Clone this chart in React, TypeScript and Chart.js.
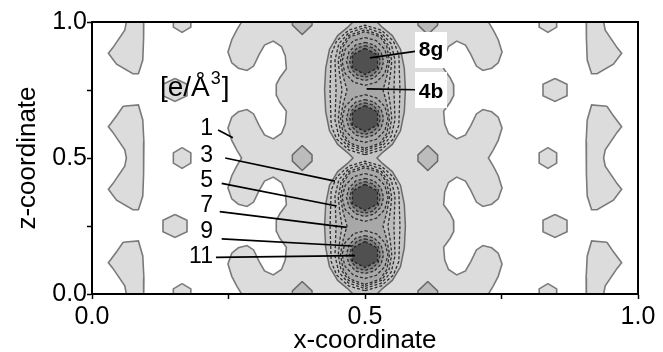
import { useEffect, useRef } from 'react';
import { Chart, registerables } from 'chart.js';

Chart.register(...registerables);

type P = [number, number];

const FONT = "'Liberation Sans', Arial, sans-serif";

// ---- axes ----
const TICK_VALUES = [0, 0.25, 0.5, 0.75, 1];
const TICK_LABELS = ['0.0', '', '0.5', '', '1.0'];
const X_TITLE = 'x-coordinate';
const Y_TITLE = 'z-coordinate';

// ---- level-1 band: left boundary over one z period (0 .. 0.5), [x, z] ----
const BAND_LEFT: P[] = [
  [0.274, 0.0], [0.265, 0.03], [0.256, 0.065], [0.249, 0.11], [0.256, 0.15], [0.268, 0.17],
  [0.284, 0.178], [0.296, 0.162], [0.306, 0.12], [0.316, 0.085], [0.332, 0.07], [0.347, 0.09],
  [0.354, 0.125], [0.356, 0.172], [0.344, 0.205], [0.338, 0.23], [0.337, 0.25], [0.338, 0.27],
  [0.344, 0.295], [0.356, 0.328], [0.354, 0.375], [0.347, 0.41], [0.332, 0.43], [0.316, 0.415],
  [0.306, 0.38], [0.296, 0.338], [0.284, 0.322], [0.268, 0.33], [0.256, 0.35], [0.249, 0.39],
  [0.256, 0.435], [0.265, 0.47],
];
const PERIOD_SHIFTS = [-0.5, 0, 0.5, 1.0];

// ---- outer crescent blob (left one, centred at z = 0.5), [x, z] ----
const BLOB_LEFT: P[] = [
  [0.057, 0.69], [0.085, 0.695], [0.093, 0.64], [0.095, 0.56], [0.094, 0.5], [0.095, 0.44],
  [0.093, 0.36], [0.085, 0.31], [0.075, 0.31], [0.045, 0.345], [0.03, 0.385], [0.038, 0.405],
  [0.06, 0.47], [0.063, 0.5], [0.06, 0.53], [0.038, 0.595], [0.03, 0.615], [0.045, 0.655],
];
const BLOB_SHIFTS = [-0.5, 0, 0.5];

// ---- small islands (left side; right side is mirrored) ----
const HEX_UNIT: P[] = [[0, 1], [1, 0.5], [1, -0.5], [0, -1], [-1, -0.5], [-1, 0.5]];
const DIAMOND_UNIT: P[] = [[0, 1], [1, 0.25], [1, -0.25], [0, -1], [-1, -0.25], [-1, 0.25]];
const HEX_CENTERS: P[] = [[0.152, 0.25], [0.152, 0.75]];
const HEX_SIZE: P = [0.022, 0.042];
const SMALL_CENTERS: P[] = [[0.165, 0], [0.165, 0.5], [0.165, 1]];
const SMALL_SIZE: P = [0.016, 0.038];
const DIAMOND_CENTERS: P[] = [[0.385, 0], [0.385, 0.5], [0.385, 1]];
const DIAMOND_SIZE: P = [0.018, 0.046];

// ---- central column: half-width profiles [z, half-width] around x = 0.5 ----
const COLUMN_PROFILE: P[] = [
  [0, 0.022], [0.02, 0.032], [0.05, 0.05], [0.1, 0.065], [0.17, 0.072], [0.25, 0.074],
  [0.33, 0.072], [0.4, 0.065], [0.45, 0.05], [0.48, 0.032],
];
const L4_PROFILE: P[] = [
  [0.012, 0], [0.03, 0.03], [0.07, 0.052], [0.12, 0.062], [0.25, 0.064], [0.38, 0.062],
  [0.43, 0.052], [0.47, 0.03], [0.488, 0],
];
const L5_PROFILE: P[] = [
  [0.02, 0], [0.04, 0.03], [0.08, 0.048], [0.14, 0.055], [0.25, 0.053], [0.36, 0.055],
  [0.42, 0.048], [0.46, 0.03], [0.48, 0],
];
const L6_PROFILE: P[] = [
  [0.028, 0], [0.05, 0.03], [0.09, 0.044], [0.145, 0.049], [0.2, 0.046], [0.25, 0.042],
  [0.3, 0.046], [0.355, 0.049], [0.41, 0.044], [0.45, 0.03], [0.472, 0],
];
const L7_PROFILE: P[] = [
  [0.035, 0], [0.055, 0.028], [0.09, 0.04], [0.145, 0.045], [0.2, 0.04], [0.25, 0.033],
  [0.3, 0.04], [0.355, 0.045], [0.41, 0.04], [0.445, 0.028], [0.465, 0],
];
const HALF_SHIFTS = [0, 0.5];

// ---- maxima and their rings ----
const MAXIMA_Z = [0.145, 0.355, 0.645, 0.855];
const RING_UNIT: P[] = [
  [0, 1], [0.5, 0.866], [0.866, 0.5], [1, 0], [0.866, -0.5], [0.5, -0.866],
  [0, -1], [-0.5, -0.866], [-0.866, -0.5], [-1, 0], [-0.866, 0.5], [-0.5, 0.866],
];
const L8_SIZE: P = [0.042, 0.088];
const L9_SIZE: P = [0.034, 0.07];
const L10_SIZE: P = [0.028, 0.058];
const CORE_SIZE: P = [0.023, 0.048];

// ---- annotations ----
const LEVEL_LABELS = ['1', '3', '5', '7', '9', '11'];
const LEVEL_LABEL_X = 0.2216;
const LEVEL_LABEL_Z = [0.5857, 0.4864, 0.3945, 0.3026, 0.2048, 0.1129];
// leader lines [x1, z1, x2, z2]
const LEVEL_LEADERS: [number, number, number, number][] = [
  [0.231, 0.603, 0.258, 0.574],
  [0.244, 0.5, 0.445, 0.415],
  [0.2375, 0.407, 0.448, 0.3235],
  [0.234, 0.3026, 0.4665, 0.245],
  [0.2375, 0.203, 0.4757, 0.1765],
  [0.227, 0.135, 0.4817, 0.1408],
];
const SITE_LABELS = ['8g', '4b'];
const SITE_LABEL_X = 0.6209;
const SITE_LABEL_Z = [0.874, 0.7206];
const SITE_BOXES: [number, number, number, number][] = [
  [0.5916, 0.8309, 0.6502, 0.9632],
  [0.5916, 0.6838, 0.6502, 0.8162],
];
const SITE_LEADERS: [number, number, number, number][] = [
  [0.5916, 0.892, 0.509, 0.868],
  [0.5916, 0.751, 0.503, 0.754],
];
const UNIT_LABEL_POS: P = [0.1245, 0.7268];

// ---------- helpers (geometry from the arrays above) ----------
const mirror = (pts: P[]): P[] => pts.map(([x, z]) => [1 - x, z] as P);
const repeatZ = (pts: P[], shifts: number[]): P[] =>
  shifts.flatMap((d) => pts.map(([x, z]) => [x, z + d] as P));
const shape = (unit: P[], c: P, s: P): P[] => unit.map(([u, v]) => [c[0] + u * s[0], c[1] + v * s[1]] as P);
const profileClosed = (prof: P[], dz: number): P[] => {
  const right = prof.map(([z, w]) => [0.5 + w, z + dz] as P);
  const left = prof.slice(1, -1).reverse().map(([z, w]) => [0.5 - w, z + dz] as P);
  return [...right, ...left];
};
const profileOpen = (prof: P[], shifts: number[]): P[] => {
  const pts = repeatZ(prof.map(([z, w]) => [w, z] as P), shifts);
  const right = pts.map(([w, z]) => [0.5 + w, z] as P);
  const left = pts.slice().reverse().map(([w, z]) => [0.5 - w, z] as P);
  return [...right, ...left];
};

type Style = { fill?: string; stroke: string; width: number; dash?: number[] };
const LIGHT: Style = { fill: '#dcdcdc', stroke: '#7a7a7a', width: 1.6 };
const DIAM: Style = { fill: '#bcbcbc', stroke: '#6a6a6a', width: 1.5 };
const COL: Style = { fill: '#c4c4c4', stroke: '#6a6a6a', width: 1.5 };
const DASH = [3, 2];
const DARK = '#2e2e2e';

function polyDataset(pts: P[], st: Style) {
  const closed = [...pts, pts[0]];
  return {
    data: closed.map(([x, y]) => ({ x, y })),
    showLine: true,
    fill: st.fill ? 'shape' : false,
    backgroundColor: st.fill || 'rgba(0,0,0,0)',
    borderColor: st.stroke,
    borderWidth: st.width,
    borderDash: st.dash || [],
    pointRadius: 0,
    pointHoverRadius: 0,
    tension: 0,
  };
}
function lineDataset(seg: [number, number, number, number]) {
  return {
    data: [{ x: seg[0], y: seg[1] }, { x: seg[2], y: seg[3] }],
    showLine: true,
    fill: false,
    borderColor: '#000',
    borderWidth: 1.7,
    pointRadius: 0,
    pointHoverRadius: 0,
  };
}

function buildDatasets() {
  const ds: any[] = [];
  // level-1 band
  const bandLeft = repeatZ(BAND_LEFT, PERIOD_SHIFTS);
  ds.push(polyDataset([...bandLeft, ...mirror(bandLeft).reverse()], LIGHT));
  // outer blobs
  BLOB_SHIFTS.forEach((d) => {
    const b = repeatZ(BLOB_LEFT, [d]);
    ds.push(polyDataset(b, LIGHT));
    ds.push(polyDataset(mirror(b), LIGHT));
  });
  HEX_CENTERS.forEach((c) => {
    const h = shape(HEX_UNIT, c, HEX_SIZE);
    ds.push(polyDataset(h, LIGHT));
    ds.push(polyDataset(mirror(h), LIGHT));
  });
  SMALL_CENTERS.forEach((c) => {
    const h = shape(HEX_UNIT, c, SMALL_SIZE);
    ds.push(polyDataset(h, LIGHT));
    ds.push(polyDataset(mirror(h), LIGHT));
  });
  DIAMOND_CENTERS.forEach((c) => {
    const h = shape(DIAMOND_UNIT, c, DIAMOND_SIZE);
    ds.push(polyDataset(h, DIAM));
    ds.push(polyDataset(mirror(h), DIAM));
  });
  // central column
  ds.push(polyDataset(profileOpen(COLUMN_PROFILE, PERIOD_SHIFTS), COL));
  HALF_SHIFTS.forEach((d) => {
    ds.push(polyDataset(profileClosed(L4_PROFILE, d), { stroke: DARK, width: 1.3, dash: DASH }));
    ds.push(polyDataset(profileClosed(L5_PROFILE, d), { fill: '#bbbbbb', stroke: DARK, width: 1.3, dash: DASH }));
    ds.push(polyDataset(profileClosed(L6_PROFILE, d), { stroke: DARK, width: 1.3, dash: DASH }));
    ds.push(polyDataset(profileClosed(L7_PROFILE, d), { fill: '#a8a8a8', stroke: DARK, width: 1.3, dash: DASH }));
  });
  MAXIMA_Z.forEach((z) => {
    const c: P = [0.5, z];
    ds.push(polyDataset(shape(RING_UNIT, c, L8_SIZE), { stroke: DARK, width: 1.3, dash: DASH }));
    ds.push(polyDataset(shape(RING_UNIT, c, L9_SIZE), { fill: '#939393', stroke: DARK, width: 1.3, dash: DASH }));
    ds.push(polyDataset(shape(RING_UNIT, c, L10_SIZE), { fill: '#7c7c7c', stroke: DARK, width: 1.3, dash: DASH }));
    ds.push(polyDataset(shape(HEX_UNIT, c, CORE_SIZE), { fill: '#505050', stroke: '#222', width: 1.3, dash: DASH }));
  });
  LEVEL_LEADERS.forEach((s) => ds.push(lineDataset(s)));
  SITE_LEADERS.forEach((s) => ds.push(lineDataset(s)));
  const n = ds.length;
  ds.forEach((d, i) => (d.order = n - i));
  return ds;
}

const annotations = {
  id: 'annotations',
  afterDatasetsDraw(chart: any) {
    const { ctx, chartArea, scales } = chart;
    const X = (v: number) => scales.x.getPixelForValue(v);
    const Y = (v: number) => scales.y.getPixelForValue(v);
    ctx.save();
    // white boxes behind site labels
    ctx.fillStyle = '#fff';
    SITE_BOXES.forEach(([x0, z0, x1, z1]) => {
      ctx.fillRect(X(x0), Y(z1), X(x1) - X(x0), Y(z0) - Y(z1));
    });
    ctx.fillStyle = '#000';
    ctx.textBaseline = 'alphabetic';
    ctx.font = `bold 21px ${FONT}`;
    ctx.textAlign = 'center';
    SITE_LABELS.forEach((t, i) => ctx.fillText(t, X(SITE_LABEL_X), Y(SITE_LABEL_Z[i])));
    ctx.font = `23px ${FONT}`;
    ctx.textAlign = 'right';
    LEVEL_LABELS.forEach((t, i) => ctx.fillText(t, X(LEVEL_LABEL_X), Y(LEVEL_LABEL_Z[i])));
    // unit label [e/Å³]
    ctx.textAlign = 'left';
    let px = X(UNIT_LABEL_POS[0]);
    const py = Y(UNIT_LABEL_POS[1]);
    ctx.font = `28px ${FONT}`;
    ctx.fillText('[e/Å', px, py);
    px += ctx.measureText('[e/Å').width + 1;
    ctx.font = `18px ${FONT}`;
    ctx.fillText('3', px, py - 12);
    px += ctx.measureText('3').width + 1;
    ctx.font = `28px ${FONT}`;
    ctx.fillText(']', px, py);
    // frame
    ctx.strokeStyle = '#000';
    ctx.lineWidth = 2;
    ctx.strokeRect(chartArea.left, chartArea.top, chartArea.right - chartArea.left, chartArea.bottom - chartArea.top);
    ctx.restore();
  },
};

const tickLabel = (v: number) => {
  const i = TICK_VALUES.findIndex((t) => Math.abs(t - v) < 1e-6);
  return i >= 0 ? TICK_LABELS[i] : '';
};

export default function App() {
  const ref = useRef<HTMLCanvasElement | null>(null);
  useEffect(() => {
    document.body.style.margin = '0';
    if (!ref.current) return;
    const axisCommon = (title: string, padding: any) => ({
      type: 'linear' as const,
      min: 0,
      max: 1,
      afterBuildTicks: (s: any) => {
        s.ticks = TICK_VALUES.map((v) => ({ value: v }));
      },
      ticks: {
        autoSkip: false,
        maxRotation: 0,
        color: '#000',
        font: { size: 25, family: FONT },
        callback: (v: any) => tickLabel(Number(v)),
      },
      grid: { drawOnChartArea: false, tickLength: 5, tickColor: '#000', tickWidth: 1.5 },
      border: { color: '#000', width: 2 },
      title: { display: true, text: title, color: '#000', font: { size: 26, family: FONT }, padding },
    });
    const xAxis: any = axisCommon(X_TITLE, { top: 0, bottom: -4 });
    xAxis.ticks.padding = 3;
    xAxis.afterFit = (s: any) => {
      s.height = 58;
    };
    const yAxis: any = axisCommon(Y_TITLE, { top: 12, bottom: 0 });
    yAxis.ticks.padding = 0;
    yAxis.afterFit = (s: any) => {
      s.width = 92;
    };
    const chart = new Chart(ref.current, {
      type: 'scatter',
      data: { datasets: buildDatasets() },
      options: {
        animation: false,
        responsive: false,
        devicePixelRatio: 1,
        layout: { padding: { left: 0, right: 25, top: 22, bottom: 0 } },
        scales: { x: xAxis, y: yAxis },
        plugins: { legend: { display: false }, tooltip: { enabled: false } },
        events: [],
      },
      plugins: [annotations],
    } as any);
    return () => chart.destroy();
  }, []);
  return (
    <div style={{ width: 663, height: 352, background: '#fff' }}>
      <canvas ref={ref} width={663} height={352} style={{ display: 'block' }} />
    </div>
  );
}
